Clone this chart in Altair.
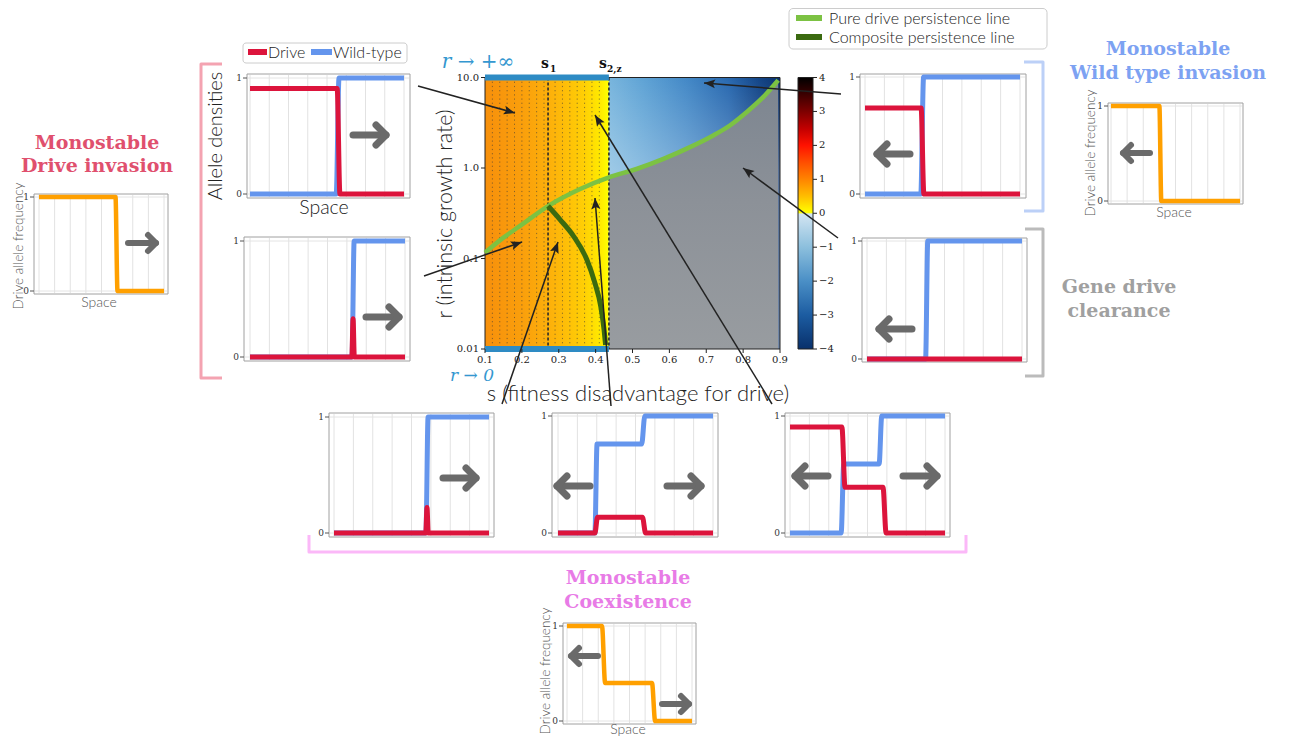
import math
import altair as alt
import pandas as pd

# ===================== values =====================
# main phase diagram: s = fitness disadvantage, r = intrinsic growth rate
s_pure = [0.100, 0.150, 0.195, 0.272, 0.358, 0.436, 0.511, 0.584, 0.656, 0.719, 0.764, 0.810, 0.855, 0.895]
r_pure = [0.116, 0.170, 0.229, 0.381, 0.585, 0.787, 0.975, 1.26, 1.70, 2.29, 2.95, 4.16, 6.10, 9.33]
s_comp = [0.271, 0.303, 0.340, 0.376, 0.398, 0.414, 0.423, 0.427]
r_comp = [0.380, 0.271, 0.177, 0.0975, 0.0537, 0.0295, 0.0162, 0.0111]
s_1 = 0.271
s_2z = 0.436
s_min, s_max = 0.1, 0.9
r_min, r_max = 0.01, 10.0
s_ticks = [0.1, 0.2, 0.3, 0.4, 0.5, 0.6, 0.7, 0.8, 0.9]
s_tick_labels = ["0.1", "0.2", "0.3", "0.4", "0.5", "0.6", "0.7", "0.8", "0.9"]
r_ticks = [0.01, 0.1, 1.0, 10.0]
r_tick_labels = ["0.01", "0.1", "1.0", "10.0"]
cbar_ticks = [4, 3, 2, 1, 0, -1, -2, -3, -4]
cbar_labels = ["4", "3", "2", "1", "0", "−1", "−2", "−3", "−4"]
dotted_s = [0.12, 0.14, 0.16, 0.18, 0.20, 0.22, 0.24, 0.26, 0.29, 0.31, 0.33, 0.35, 0.37, 0.39, 0.41]

# travelling-wave profiles (space scaled to 0..1, densities 0..1)
space_grid = [0.0, 0.125, 0.25, 0.375, 0.5, 0.625, 0.75, 0.875, 1.0]
tl_wild_x = [0.0, 0.560, 0.578, 1.0]
tl_wild_y = [0.0, 0.0, 1.0, 1.0]
tl_drive_x = [0.0, 0.566, 0.584, 1.0]
tl_drive_y = [0.91, 0.91, 0.0, 0.0]
l2_wild_x = [0.0, 0.658, 0.672, 1.0]
l2_wild_y = [0.0, 0.0, 1.0, 1.0]
l2_drive_x = [0.0, 0.657, 0.665, 0.673, 1.0]
l2_drive_y = [0.0, 0.0, 0.33, 0.0, 0.0]
r1_wild_x = [0.0, 0.360, 0.378, 1.0]
r1_wild_y = [0.0, 0.0, 1.0, 1.0]
r1_drive_x = [0.0, 0.362, 0.380, 1.0]
r1_drive_y = [0.735, 0.735, 0.0, 0.0]
r2_wild_x = [0.0, 0.378, 0.392, 1.0]
r2_wild_y = [0.0, 0.0, 1.0, 1.0]
r2_drive_x = [0.0, 1.0]
r2_drive_y = [0.0, 0.0]
b1_wild_x = [0.0, 0.593, 0.607, 1.0]
b1_wild_y = [0.0, 0.0, 1.0, 1.0]
b1_drive_x = [0.0, 0.592, 0.600, 0.608, 1.0]
b1_drive_y = [0.0, 0.0, 0.22, 0.0, 0.0]
b2_wild_x = [0.0, 0.238, 0.252, 0.540, 0.560, 1.0]
b2_wild_y = [0.0, 0.0, 0.76, 0.76, 1.0, 1.0]
b2_drive_x = [0.0, 0.238, 0.255, 0.545, 0.565, 1.0]
b2_drive_y = [0.0, 0.0, 0.135, 0.135, 0.0, 0.0]
b3_wild_x = [0.0, 0.330, 0.347, 0.575, 0.592, 1.0]
b3_wild_y = [0.0, 0.0, 0.59, 0.59, 1.0, 1.0]
b3_drive_x = [0.0, 0.335, 0.355, 0.600, 0.620, 1.0]
b3_drive_y = [0.905, 0.905, 0.39, 0.39, 0.0, 0.0]
fl_freq_x = [0.0, 0.612, 0.628, 1.0]
fl_freq_y = [1.0, 1.0, 0.0, 0.0]
fr_freq_x = [0.0, 0.375, 0.390, 1.0]
fr_freq_y = [1.0, 1.0, 0.0, 0.0]
pc_freq_x = [0.0, 0.280, 0.305, 0.680, 0.705, 1.0]
pc_freq_y = [1.0, 1.0, 0.40, 0.40, 0.0, 0.0]

legend_main = ["Pure drive persistence line", "Composite persistence line"]
legend_alleles = ["Drive", "Wild-type"]

# ===================== layout / style =====================
OFF = 8
W, H = 1278, 730
MX0, MX1, MY_TOP, MY_BOT = 485, 780, 77.5, 349
CBX0, CBX1 = 798, 813

RED = "#dc143c"
BLUE = "#6495ed"
ORANGE = "#ffa000"
GARROW = "#6a6a6a"
LIGHT = "Lato"
SERIF = "DejaVu Serif"

layers = []


def GX():
    return alt.Scale(domain=[OFF, OFF + W], range=[0, W], nice=False, zero=False)


def GY():
    return alt.Scale(domain=[OFF, OFF + H], range=[0, H], nice=False, zero=False)


def SX():
    return alt.Scale(domain=[s_min, s_max], range=[MX0 - OFF, MX1 - OFF], nice=False, zero=False)


def SY():
    return alt.Scale(type="log", domain=[r_min, r_max], range=[MY_BOT - OFF, MY_TOP - OFF], nice=False)


def CY():
    return alt.Scale(domain=[-4, 4], range=[MY_BOT - OFF, MY_TOP - OFF], nice=False, zero=False)


def add_polyline(pts, color, width, cap="round", dash=None, opacity=1.0):
    df = pd.DataFrame({"x": [p[0] for p in pts], "y": [p[1] for p in pts], "i": list(range(len(pts)))})
    kw = dict(color=color, strokeWidth=width, strokeCap=cap, strokeJoin="round", opacity=opacity)
    if dash:
        kw["strokeDash"] = dash
    layers.append(alt.Chart(df).mark_line(**kw).encode(
        x=alt.X("x:Q", scale=GX(), axis=None),
        y=alt.Y("y:Q", scale=GY(), axis=None),
        order="i:Q"))


def add_text(items, size, color="#222222", font=LIGHT, weight="normal", angle=0,
             align="center", baseline="middle", style="normal"):
    """items: list of (text, x, y) in reference pixel coordinates"""
    df = pd.DataFrame({"t": [it[0] for it in items], "x": [it[1] for it in items], "y": [it[2] for it in items]})
    kw = dict(fontSize=size, color=color, font=font, fontWeight=weight,
              align=align, baseline=baseline, fontStyle=style)
    if angle:
        kw["angle"] = angle
    layers.append(alt.Chart(df).mark_text(**kw).encode(
        x=alt.X("x:Q", scale=GX(), axis=None),
        y=alt.Y("y:Q", scale=GY(), axis=None),
        text="t:N"))


def add_rects(rects, **kw):
    df = pd.DataFrame(rects, columns=["x", "y", "x2", "y2"])
    layers.append(alt.Chart(df).mark_rect(**kw).encode(
        x=alt.X("x:Q", scale=GX(), axis=None), x2="x2:Q",
        y=alt.Y("y:Q", scale=GY(), axis=None), y2="y2:Q"))


def add_hrules(rules, color, width=1):
    df = pd.DataFrame(rules, columns=["x", "x2", "y"])
    layers.append(alt.Chart(df).mark_rule(color=color, strokeWidth=width).encode(
        x=alt.X("x:Q", scale=GX(), axis=None), x2="x2:Q",
        y=alt.Y("y:Q", scale=GY(), axis=None)))


def grad(stops, vertical=False):
    st = [alt.GradientStop(color=c, offset=o) for o, c in stops]
    if vertical:
        return alt.Gradient(gradient="linear", stops=st, x1=0, x2=0, y1=0, y2=1)
    return alt.Gradient(gradient="linear", stops=st, x1=0, x2=1, y1=0, y2=0)


# ===================== main phase diagram =====================
box = pd.DataFrame({"s0": [s_min], "s1": [s_2z], "s2": [s_max], "r0": [r_min], "r1": [r_max]})
layers.append(alt.Chart(box).mark_rect(color=grad([
    (0.0, "#f7900c"), (0.3, "#fa9f0c"), (0.55, "#fdb30a"), (0.8, "#ffcf05"),
    (0.93, "#ffea00"), (1.0, "#ffff00")])).encode(
    x=alt.X("s0:Q", scale=SX(), axis=None), x2="s1:Q",
    y=alt.Y("r0:Q", scale=SY(), axis=None), y2="r1:Q"))
layers.append(alt.Chart(box).mark_rect(color=grad([
    (0.0, "#78b5dd"), (0.2, "#5fa3d5"), (0.45, "#4489c7"), (0.7, "#2969b0"),
    (0.88, "#134587"), (1.0, "#09316d")])).encode(
    x=alt.X("s1:Q", scale=SX(), axis=None), x2="s2:Q",
    y=alt.Y("r0:Q", scale=SY(), axis=None), y2="r1:Q"))
layers.append(alt.Chart(box).mark_rect(color=grad([
    (0.0, "rgba(255,255,255,0)"), (0.34, "rgba(255,255,255,0.28)"), (1.0, "rgba(255,255,255,0.4)")],
    vertical=True)).encode(
    x=alt.X("s1:Q", scale=SX(), axis=None), x2="s2:Q",
    y=alt.Y("r0:Q", scale=SY(), axis=None), y2="r1:Q"))

grey_df = pd.DataFrame({"s": [s for s in s_pure if s >= s_2z],
                        "r": [r for s, r in zip(s_pure, r_pure) if s >= s_2z]})
grey_df["base"] = r_min
layers.append(alt.Chart(grey_df).mark_area(interpolate="monotone", color=grad([
    (0.0, "#7c8590"), (0.45, "#8c9198"), (1.0, "#989ca0")], vertical=True)).encode(
    x=alt.X("s:Q", scale=SX(), axis=None),
    y=alt.Y("r:Q", scale=SY(), axis=None), y2="base:Q"))

layers.append(alt.Chart(pd.DataFrame({"s": dotted_s})).mark_rule(
    color="#3a3a3a", strokeWidth=1, strokeDash=[1.2, 3], opacity=0.6).encode(
    x=alt.X("s:Q", scale=SX(), axis=None),
    y=alt.value(MY_TOP - OFF), y2=alt.value(MY_BOT - OFF)))
layers.append(alt.Chart(pd.DataFrame({"s": [s_1, s_2z]})).mark_rule(
    color="#2a2a2a", strokeWidth=1.6, strokeDash=[3, 2]).encode(
    x=alt.X("s:Q", scale=SX(), axis=None),
    y=alt.value(MY_TOP - OFF), y2=alt.value(MY_BOT - OFF)))

layers.append(alt.Chart(box).mark_rect(fill="white", fillOpacity=0, stroke="#222222", strokeWidth=1).encode(
    x=alt.X("s0:Q", scale=SX(), axis=None), x2="s2:Q",
    y=alt.Y("r0:Q", scale=SY(), axis=None), y2="r1:Q"))

edge_df = pd.DataFrame({"s": [s_min, s_2z, s_min, s_2z], "r": [r_max, r_max, r_min, r_min], "k": [0, 0, 1, 1]})
layers.append(alt.Chart(edge_df).mark_line(color="#2e8bc4", strokeWidth=6, strokeCap="butt").encode(
    x=alt.X("s:Q", scale=SX(), axis=None), y=alt.Y("r:Q", scale=SY(), axis=None), detail="k:N"))

layers.append(alt.Chart(pd.DataFrame({"s": s_pure, "r": r_pure})).mark_line(
    color="#7cc243", strokeWidth=4.5, interpolate="monotone").encode(
    x=alt.X("s:Q", scale=SX(), axis=None), y=alt.Y("r:Q", scale=SY(), axis=None)))
layers.append(alt.Chart(pd.DataFrame({"s": s_comp, "r": r_comp})).mark_line(
    color="#3b6a10", strokeWidth=5, interpolate="monotone").encode(
    x=alt.X("s:Q", scale=SX(), axis=None), y=alt.Y("r:Q", scale=SY(), axis=None)))

# axes of the main diagram
xt = pd.DataFrame({"s": s_ticks, "t": s_tick_labels})
layers.append(alt.Chart(xt).mark_rule(color="#222222").encode(
    x=alt.X("s:Q", scale=SX(), axis=None), y=alt.value(MY_BOT - OFF), y2=alt.value(MY_BOT - OFF + 4)))
layers.append(alt.Chart(xt).mark_text(font=SERIF, fontSize=10, color="#222222", baseline="middle").encode(
    x=alt.X("s:Q", scale=SX(), axis=None), y=alt.value(360 - OFF), text="t:N"))
yt = pd.DataFrame({"r": r_ticks, "t": r_tick_labels})
layers.append(alt.Chart(yt).mark_rule(color="#222222").encode(
    y=alt.Y("r:Q", scale=SY(), axis=None), x=alt.value(MX0 - OFF - 4), x2=alt.value(MX0 - OFF)))
layers.append(alt.Chart(yt).mark_text(font=SERIF, fontSize=10, color="#222222", align="right", baseline="middle").encode(
    y=alt.Y("r:Q", scale=SY(), axis=None), x=alt.value(MX0 - OFF - 6), text="t:N"))

# colour bar
cb = pd.DataFrame({"x": [CBX0], "x2": [CBX1], "v0": [4], "v1": [-4]})
layers.append(alt.Chart(cb).mark_rect(color=grad([
    (0.0, "#000000"), (0.06, "#3a0000"), (0.125, "#7d0000"), (0.19, "#c40000"),
    (0.25, "#ff1200"), (0.31, "#ff4c00"), (0.375, "#ff8400"), (0.44, "#ffc000"),
    (0.497, "#ffff00"), (0.503, "#d3e5f2"), (0.56, "#b1d3e8"), (0.625, "#8cbfdd"),
    (0.75, "#4a8fc6"), (0.875, "#1c5ca1"), (1.0, "#08306b")], vertical=True),
    stroke="#222222", strokeWidth=1).encode(
    x=alt.X("x:Q", scale=GX(), axis=None), x2="x2:Q",
    y=alt.Y("v0:Q", scale=CY(), axis=None), y2="v1:Q"))
ct = pd.DataFrame({"v": cbar_ticks, "t": cbar_labels})
layers.append(alt.Chart(ct).mark_rule(color="#222222").encode(
    y=alt.Y("v:Q", scale=CY(), axis=None), x=alt.value(CBX1 - OFF), x2=alt.value(CBX1 - OFF + 4)))
layers.append(alt.Chart(ct).mark_text(font=SERIF, fontSize=10, color="#222222", align="left", baseline="middle").encode(
    y=alt.Y("v:Q", scale=CY(), axis=None), x=alt.value(CBX1 - OFF + 6), text="t:N"))

add_text([("r (intrinsic growth rate)", 446, 214)], 21.5, angle=270, weight=300)
add_text([("s (fitness disadvantage for drive)", 638, 394)], 22, weight=300)
add_text([("r → +∞", 478, 62)], 20, color="#3497d0", font=SERIF, style="italic")
add_text([("r → 0", 472, 376)], 17, color="#3497d0", font=SERIF, style="italic")
add_text([("s", 545, 64), ("s", 603, 64)], 14, color="#111111", font=SERIF, weight="bold")
add_text([("1", 550, 69), ("2,z", 607, 69)], 9, color="#111111", font=SERIF, weight="bold", align="left")

# ===================== profile panels =====================
panels = [
    dict(frame=(247, 74, 410, 198), x0=250, x1=404, y0=194, y1=78, lw=5,
         curves=[(tl_wild_x, tl_wild_y, BLUE), (tl_drive_x, tl_drive_y, RED)]),
    dict(frame=(244, 237, 410, 361), x0=250, x1=405, y0=357, y1=241, lw=5,
         curves=[(l2_wild_x, l2_wild_y, BLUE), (l2_drive_x, l2_drive_y, RED)]),
    dict(frame=(860, 74, 1026, 198), x0=865, x1=1020, y0=194, y1=77, lw=5,
         curves=[(r1_wild_x, r1_wild_y, BLUE), (r1_drive_x, r1_drive_y, RED)]),
    dict(frame=(862, 238, 1027, 362), x0=867, x1=1022, y0=359, y1=241, lw=5,
         curves=[(r2_wild_x, r2_wild_y, BLUE), (r2_drive_x, r2_drive_y, RED)]),
    dict(frame=(329, 413, 494, 537), x0=334, x1=489, y0=533, y1=417, lw=5,
         curves=[(b1_wild_x, b1_wild_y, BLUE), (b1_drive_x, b1_drive_y, RED)]),
    dict(frame=(552, 413, 718, 537), x0=558, x1=713, y0=533, y1=416, lw=5,
         curves=[(b2_wild_x, b2_wild_y, BLUE), (b2_drive_x, b2_drive_y, RED)]),
    dict(frame=(785, 413, 950, 537), x0=790, x1=945, y0=533, y1=416, lw=5,
         curves=[(b3_wild_x, b3_wild_y, BLUE), (b3_drive_x, b3_drive_y, RED)]),
    dict(frame=(34, 194, 168, 294), x0=39, x1=164, y0=291, y1=197, lw=4.5,
         curves=[(fl_freq_x, fl_freq_y, ORANGE)]),
    dict(frame=(1108, 103, 1243, 204), x0=1111, x1=1240, y0=201, y1=106, lw=4.5,
         curves=[(fr_freq_x, fr_freq_y, ORANGE)]),
    dict(frame=(563, 623, 696, 724), x0=567, x1=692, y0=721, y1=626, lw=4.5,
         curves=[(pc_freq_x, pc_freq_y, ORANGE)]),
]

add_rects([p["frame"] for p in panels], fill="white", stroke="#a0a0a0", strokeWidth=1)
hgrid, ticks, tlabels = [], [], []
for p in panels:
    l, t, r, b = p["frame"]
    hgrid += [(l + 1, r - 1, p["y0"]), (l + 1, r - 1, p["y1"])]
    ticks += [(l - 4, l, p["y0"]), (l - 4, l, p["y1"])]
    tlabels += [("0", l - 5, p["y0"]), ("1", l - 5, p["y1"])]
add_hrules(hgrid, "#e4e4e4")
add_hrules(ticks, "#555555")
add_text(tlabels, 9, color="#333333", font=SERIF, align="right")

for p in panels:
    l, t, r, b = p["frame"]
    xs = alt.Scale(domain=[0, 1], range=[p["x0"] - OFF, p["x1"] - OFF], nice=False, zero=False)
    ys = alt.Scale(domain=[0, 1], range=[p["y0"] - OFF, p["y1"] - OFF], nice=False, zero=False)
    layers.append(alt.Chart(pd.DataFrame({"g": space_grid})).mark_rule(color="#e2e2e2", strokeWidth=1).encode(
        x=alt.X("g:Q", scale=xs, axis=None), y=alt.value(t - OFF + 1), y2=alt.value(b - OFF - 1)))
    for cx, cy, col in p["curves"]:
        df = pd.DataFrame({"x": cx, "y": cy, "i": list(range(len(cx)))})
        layers.append(alt.Chart(df).mark_line(color=col, strokeWidth=p["lw"], interpolate="monotone",
                                              strokeCap="butt", strokeJoin="round").encode(
            x=alt.X("x:Q", scale=xs, axis=None), y=alt.Y("y:Q", scale=ys, axis=None), order="i:Q"))

# grey propagation arrows inside the panels
grey_arrows = [((353, 135), (386, 135), 10), ((366, 317), (399, 317), 10),
               ((910, 154), (877, 154), 10), ((912, 329), (879, 329), 10),
               ((128, 243), (156, 243), 8), ((1150, 153), (1123, 153), 8),
               ((443, 478), (476, 478), 10), ((590, 486), (557, 486), 10), ((667, 486), (701, 486), 10),
               ((828, 476), (795, 476), 10), ((903, 476), (937, 476), 10),
               ((598, 656), (571, 656), 8), ((662, 704), (689, 704), 8)]
for tail, tip, a in grey_arrows:
    dx, dy = tip[0] - tail[0], tip[1] - tail[1]
    L = math.hypot(dx, dy)
    ux, uy = dx / L, dy / L
    px, py = -uy, ux
    arm1 = (tip[0] - a * ux + a * px, tip[1] - a * uy + a * py)
    arm2 = (tip[0] - a * ux - a * px, tip[1] - a * uy - a * py)
    w = 7 if a >= 10 else 6
    add_polyline([tail, tip], GARROW, w)
    add_polyline([arm1, tip, arm2], GARROW, w)

# ===================== legends =====================
add_rects([(789, 8.5, 1047, 49)], fill="white", stroke="#cccccc", strokeWidth=1, cornerRadius=4)
add_rects([(796, 15, 822, 21)], color="#7cc243")
add_rects([(796, 34, 822, 40)], color="#3b6a10")
add_text([(legend_main[0], 829, 18.5), (legend_main[1], 829, 37.5)], 16, align="left", weight=300)

add_rects([(243, 43, 407, 63)], fill="white", stroke="#cccccc", strokeWidth=1, cornerRadius=3)
add_rects([(248, 49, 267, 55)], color=RED)
add_rects([(311, 49, 332, 55)], color=BLUE)
add_text([(legend_alleles[0], 268, 53), (legend_alleles[1], 333, 53)], 16, align="left", weight=300)

# ===================== panel labels / titles =====================
add_text([("Allele densities", 216, 136)], 20, angle=270, weight=300)
add_text([("Space", 324, 208)], 19.5, weight=300)
add_text([("Drive allele frequency", 19, 246), ("Drive allele frequency", 1091, 153),
          ("Drive allele frequency", 546, 671)], 13.5, color="#555555", angle=270, weight=300)
add_text([("Space", 99, 303), ("Space", 1174, 213), ("Space", 628, 730)], 14, color="#555555", weight=300)
add_text([("Monostable", 97, 143), ("Drive invasion", 97, 166)], 19, color="#e0506e", font=SERIF, weight="bold")
add_text([("Monostable", 1168, 49), ("Wild type invasion", 1168, 73)], 19, color="#7da2f2", font=SERIF, weight="bold")
add_text([("Gene drive", 1119, 287), ("clearance", 1119, 311)], 19, color="#a0a0a0", font=SERIF, weight="bold")
add_text([("Monostable", 628, 578), ("Coexistence", 628, 602)], 19, color="#e87be6", font=SERIF, weight="bold")

# ===================== brackets =====================
add_polyline([(222, 64), (201, 64), (201, 378), (222, 378)], "#f4a3b1", 3, cap="butt")
add_polyline([(1024, 62), (1043, 62), (1043, 211), (1024, 211)], "#bcd0f7", 3, cap="butt")
add_polyline([(1025, 229), (1043, 229), (1043, 376), (1025, 376)], "#bbbbbb", 3, cap="butt")
add_polyline([(309, 535), (309, 552), (966, 552), (966, 535)], "#fbb8f8", 3, cap="butt")

# ===================== connector arrows =====================
conn = [((418, 86), (515, 113)), ((424, 276), (522, 242)), ((841, 94), (704, 83)),
        ((838, 238), (743, 168)), ((502, 404), (558, 242)), ((611, 406), (595, 198)),
        ((772, 404), (595, 115))]
heads = []
for tail, head in conn:
    add_polyline([tail, head], "#222222", 1.5, cap="butt")
    ang = math.degrees(math.atan2(head[0] - tail[0], -(head[1] - tail[1]))) % 360
    heads.append((head[0], head[1], ang))
hd = pd.DataFrame(heads, columns=["x", "y", "a"])
layers.append(alt.Chart(hd).mark_point(shape="M0,0L-0.4,1L0,0.8L0.4,1Z", filled=True, size=500,
                                       color="#222222", opacity=1, strokeWidth=0).encode(
    x=alt.X("x:Q", scale=GX(), axis=None), y=alt.Y("y:Q", scale=GY(), axis=None),
    angle=alt.Angle("a:Q", scale=None)))

chart = alt.layer(*layers).resolve_scale(
    x="independent", y="independent", color="independent", angle="independent"
).properties(
    width=W, height=H, padding=0, autosize=alt.AutoSizeParams(type="none"), background="white"
).configure_view(strokeWidth=0)

chart.save("out.html", embed_options={"renderer": "svg", "actions": False})
